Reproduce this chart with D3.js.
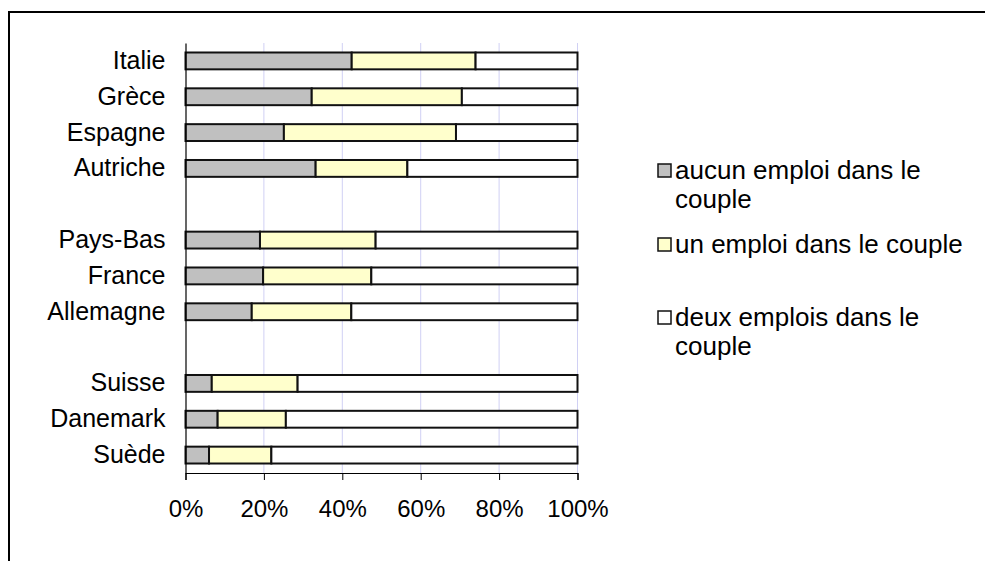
<!DOCTYPE html>
<html>
<head>
<meta charset="utf-8">
<script src="https://cdn.jsdelivr.net/npm/d3@7"></script>
<style>
  html, body { margin: 0; padding: 0; background: #fff; }
  svg { display: block; font-family: "Liberation Sans", Arial, sans-serif; }
</style>
</head>
<body>
<svg id="chart" width="985" height="561"></svg>
<script>
// Country rows, top to bottom; empty strings are spacer rows between groups
const countries = ["Italie", "Grèce", "Espagne", "Autriche", "", "Pays-Bas", "France", "Allemagne", "", "Suisse", "Danemark", "Suède"];
// Share of couples (%) by number of jobs held
const aucunEmploi = [42.4, 32.2, 25.1, 33.2, null, 19.0, 19.8, 16.9, null, 6.7, 8.2, 6.0];
const unEmploi    = [31.6, 38.3, 43.9, 23.4, null, 29.5, 27.6, 25.4, null, 21.9, 17.4, 15.9];
const deuxEmplois = [26.0, 29.5, 31.0, 43.4, null, 51.5, 52.6, 57.7, null, 71.4, 74.4, 78.1];
const seriesNames = ["aucun emploi dans le couple", "un emploi dans le couple", "deux emplois dans le couple"];
const tickValues = [0, 20, 40, 60, 80, 100];

const colors = ["#c0c0c0", "#ffffcc", "#ffffff"];
const FONT = "'Liberation Sans', Arial, sans-serif";

const svg = d3.select("#chart");

// Outer frame (top and left edges visible)
svg.append("path")
  .attr("d", "M9,985 V12 H985")
  .attr("fill", "none")
  .attr("stroke", "#000")
  .attr("stroke-width", 2);

const plot = { left: 185.5, right: 577.5, top: 43, bottom: 473 };

const x = d3.scaleLinear().domain([0, 100]).range([plot.left, plot.right]);
const y = d3.scaleBand()
  .domain(countries.map((_, i) => i))
  .range([plot.top, plot.bottom])
  .paddingInner(0.53)
  .paddingOuter(0.265);

// Vertical gridlines
svg.append("g")
  .selectAll("line")
  .data(tickValues.filter(v => v > 0))
  .join("line")
  .attr("x1", d => x(d)).attr("x2", d => x(d))
  .attr("y1", plot.top).attr("y2", plot.bottom)
  .attr("stroke", "#d0d0f4")
  .attr("stroke-width", 1);

// Stacked rows
const rows = countries.map((c, i) => ({
  idx: i, name: c,
  a: aucunEmploi[i], u: unEmploi[i], d: deuxEmplois[i]
})).filter(r => r.a !== null);

const stack = d3.stack().keys(["a", "u", "d"]);
const layers = stack(rows);

svg.append("g")
  .selectAll("g")
  .data(layers)
  .join("g")
  .attr("fill", (d, i) => colors[i])
  .selectAll("rect")
  .data(d => d)
  .join("rect")
  .attr("x", d => x(d[0]))
  .attr("width", d => x(d[1]) - x(d[0]))
  .attr("y", d => y(d.data.idx))
  .attr("height", y.bandwidth())
  .attr("stroke", "#111")
  .attr("stroke-width", 2);

// X axis
const xAxis = d3.axisBottom(x)
  .tickValues(tickValues)
  .tickFormat(d => d + "%")
  .tickSize(7)
  .tickPadding(20);

const gx = svg.append("g")
  .attr("transform", `translate(0,${plot.bottom})`)
  .call(xAxis);
gx.select(".domain").attr("stroke", "#000").attr("stroke-width", 1.2);
gx.selectAll(".tick line").attr("stroke", "#000");
gx.selectAll("text")
  .attr("font-size", 24)
  .attr("font-family", FONT)
  .attr("fill", "#000");

// Y axis
const gy = svg.append("g")
  .attr("transform", `translate(${plot.left},0)`)
  .call(d3.axisLeft(y).tickSize(0).tickPadding(20).tickFormat(i => countries[i]));
gy.select(".domain").attr("stroke", "#000").attr("stroke-width", 1.2);
gy.selectAll("text")
  .attr("font-size", 25)
  .attr("font-family", FONT)
  .attr("fill", "#000");

// Legend
const legendItems = [
  { lines: ["aucun emploi dans le", "couple"], y: 170 },
  { lines: ["un emploi dans le couple"], y: 244 },
  { lines: ["deux emplois dans le", "couple"], y: 317 }
];
const lg = svg.append("g");
legendItems.forEach((item, i) => {
  lg.append("rect")
    .attr("x", 658).attr("y", item.y - 6)
    .attr("width", 13).attr("height", 13)
    .attr("fill", colors[i])
    .attr("stroke", "#111")
    .attr("stroke-width", 1.5);
  const t = lg.append("text")
    .attr("x", 675).attr("y", item.y)
    .attr("font-size", 26)
    .attr("font-family", FONT)
    .attr("fill", "#000");
  item.lines.forEach((ln, k) => {
    t.append("tspan")
      .attr("x", 675)
      .attr("dy", k === 0 ? "0.35em" : 29)
      .text(ln);
  });
});
</script>
</body>
</html>
